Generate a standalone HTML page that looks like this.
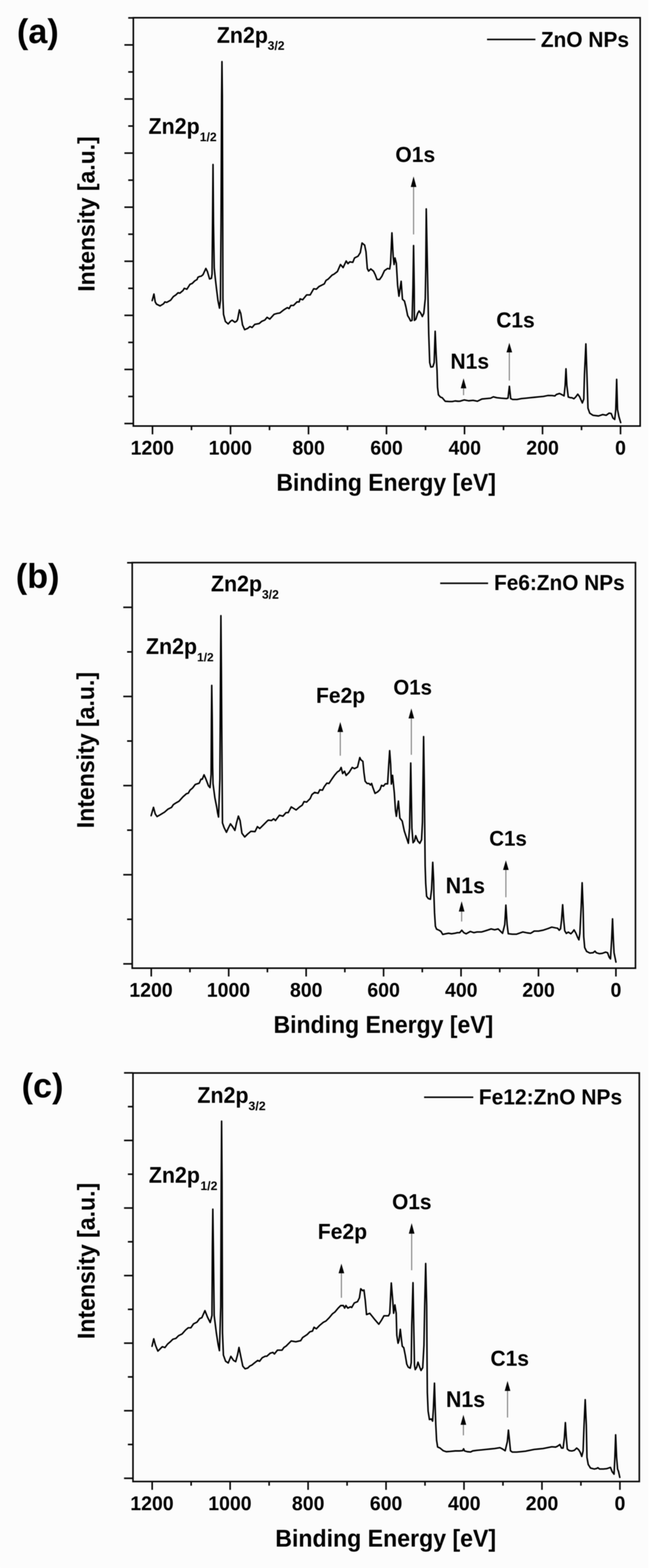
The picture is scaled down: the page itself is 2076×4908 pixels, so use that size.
<!DOCTYPE html>
<html><head><meta charset="utf-8"><title>XPS survey spectra</title>
<style>html,body{margin:0;padding:0;background:#fff;}svg{display:block;filter:blur(1px);}</style>
</head><body>
<svg width="2076" height="4908" viewBox="0 0 2076 4908" font-family="'Liberation Sans', Arial, Helvetica, sans-serif" font-weight="bold" fill="#000">
<rect x="0" y="0" width="2076" height="4908" fill="#fcfcfc"/>
<rect x="2030" y="0" width="46" height="4908" fill="#ffffff"/>
<rect x="417.5" y="55.5" width="1587.0" height="1278.0" fill="none" stroke="#0a0a0a" stroke-width="5"/>
<line x1="389.5" y1="1325.7" x2="417.5" y2="1325.7" stroke="#0a0a0a" stroke-width="5"/>
<line x1="401.5" y1="1241.0" x2="417.5" y2="1241.0" stroke="#0a0a0a" stroke-width="5"/>
<line x1="389.5" y1="1156.4" x2="417.5" y2="1156.4" stroke="#0a0a0a" stroke-width="5"/>
<line x1="401.5" y1="1071.8" x2="417.5" y2="1071.8" stroke="#0a0a0a" stroke-width="5"/>
<line x1="389.5" y1="987.1" x2="417.5" y2="987.1" stroke="#0a0a0a" stroke-width="5"/>
<line x1="401.5" y1="902.5" x2="417.5" y2="902.5" stroke="#0a0a0a" stroke-width="5"/>
<line x1="389.5" y1="817.8" x2="417.5" y2="817.8" stroke="#0a0a0a" stroke-width="5"/>
<line x1="401.5" y1="733.1" x2="417.5" y2="733.1" stroke="#0a0a0a" stroke-width="5"/>
<line x1="389.5" y1="648.5" x2="417.5" y2="648.5" stroke="#0a0a0a" stroke-width="5"/>
<line x1="401.5" y1="563.9" x2="417.5" y2="563.9" stroke="#0a0a0a" stroke-width="5"/>
<line x1="389.5" y1="479.2" x2="417.5" y2="479.2" stroke="#0a0a0a" stroke-width="5"/>
<line x1="401.5" y1="394.5" x2="417.5" y2="394.5" stroke="#0a0a0a" stroke-width="5"/>
<line x1="389.5" y1="309.9" x2="417.5" y2="309.9" stroke="#0a0a0a" stroke-width="5"/>
<line x1="401.5" y1="225.2" x2="417.5" y2="225.2" stroke="#0a0a0a" stroke-width="5"/>
<line x1="389.5" y1="140.6" x2="417.5" y2="140.6" stroke="#0a0a0a" stroke-width="5"/>
<line x1="401.5" y1="56.0" x2="417.5" y2="56.0" stroke="#0a0a0a" stroke-width="5"/>
<line x1="1943.0" y1="1333.5" x2="1943.0" y2="1359.5" stroke="#0a0a0a" stroke-width="5"/>
<text transform="translate(1926.1,1423.2) scale(1,1.045)" font-size="61.00">0</text>
<line x1="1820.9" y1="1333.5" x2="1820.9" y2="1346.5" stroke="#0a0a0a" stroke-width="5"/>
<line x1="1698.8" y1="1333.5" x2="1698.8" y2="1359.5" stroke="#0a0a0a" stroke-width="5"/>
<text transform="translate(1648.1,1423.2) scale(1,1.045)" font-size="61.00">200</text>
<line x1="1576.6" y1="1333.5" x2="1576.6" y2="1346.5" stroke="#0a0a0a" stroke-width="5"/>
<line x1="1454.5" y1="1333.5" x2="1454.5" y2="1359.5" stroke="#0a0a0a" stroke-width="5"/>
<text transform="translate(1404.4,1423.2) scale(1,1.045)" font-size="61.00">400</text>
<line x1="1332.4" y1="1333.5" x2="1332.4" y2="1346.5" stroke="#0a0a0a" stroke-width="5"/>
<line x1="1210.2" y1="1333.5" x2="1210.2" y2="1359.5" stroke="#0a0a0a" stroke-width="5"/>
<text transform="translate(1159.5,1423.2) scale(1,1.045)" font-size="61.00">600</text>
<line x1="1088.1" y1="1333.5" x2="1088.1" y2="1346.5" stroke="#0a0a0a" stroke-width="5"/>
<line x1="966.0" y1="1333.5" x2="966.0" y2="1359.5" stroke="#0a0a0a" stroke-width="5"/>
<text transform="translate(915.4,1423.2) scale(1,1.045)" font-size="61.00">800</text>
<line x1="843.9" y1="1333.5" x2="843.9" y2="1346.5" stroke="#0a0a0a" stroke-width="5"/>
<line x1="721.8" y1="1333.5" x2="721.8" y2="1359.5" stroke="#0a0a0a" stroke-width="5"/>
<text transform="translate(653.2,1423.2) scale(1,1.045)" font-size="61.00">1000</text>
<line x1="599.6" y1="1333.5" x2="599.6" y2="1346.5" stroke="#0a0a0a" stroke-width="5"/>
<line x1="477.5" y1="1333.5" x2="477.5" y2="1359.5" stroke="#0a0a0a" stroke-width="5"/>
<text transform="translate(409.0,1423.2) scale(1,1.045)" font-size="61.00">1200</text>
<line x1="1525" y1="123.5" x2="1676.5" y2="123.5" stroke="#0a0a0a" stroke-width="5"/>
<text transform="translate(1693.4,146.6) scale(1,1.045)" font-size="65.41" >ZnO NPs</text>
<polyline points="476.5,941.0 482.0,920.4 486.0,945.0 490.0,952.0 501.3,957.5 512.3,950.7 516.4,945.0 522.0,946.5 534.3,939.6 542.6,928.6 550.8,923.0 557.7,916.3 563.2,917.6 572.9,909.4 577.0,902.5 585.2,905.2 594.9,890.0 601.8,887.3 610.0,879.0 617.0,875.0 619.7,868.0 625.2,865.3 630.0,864.5 635.8,859.6 644.6,840.2 649.4,849.9 656.2,873.2 662.0,871.3 664.0,857.7 665.5,700.0 667.0,515.0 668.5,700.0 670.8,838.3 673.7,867.4 677.6,901.4 682.4,940.2 687.3,964.5 690.2,940.0 692.1,700.0 693.9,300.0 695.0,193.0 696.2,300.0 697.4,700.0 698.0,935.0 699.9,983.9 705.7,1006.2 714.5,1014.0 722.2,1005.2 727.0,1002.3 735.3,1008.5 740.8,1005.7 744.0,1000.0 749.6,970.0 753.8,981.0 759.3,1016.7 766.1,1031.9 775.8,1027.7 782.7,1022.2 789.5,1025.0 797.8,1015.3 811.6,1012.6 819.8,1005.7 829.5,1001.6 836.3,993.3 844.6,998.8 858.4,983.7 868.0,981.0 876.3,979.6 888.6,969.9 899.6,963.0 905.2,965.8 910.7,956.2 918.9,956.2 930.0,945.0 936.8,945.0 939.6,935.5 947.8,938.3 960.2,923.1 971.2,923.1 982.2,903.9 990.5,905.2 998.7,897.0 1015.3,888.7 1020.8,877.7 1027.6,873.6 1040.0,861.0 1045.5,858.3 1056.5,850.0 1066.1,828.0 1074.4,837.6 1084.0,817.0 1089.5,825.2 1095.0,819.7 1104.7,821.1 1110.2,807.3 1121.2,801.8 1128.1,790.8 1133.6,760.6 1141.8,767.4 1146.0,788.0 1150.1,840.4 1154.2,848.6 1161.1,841.8 1169.4,848.6 1174.9,859.6 1180.4,874.8 1188.6,874.8 1195.5,865.2 1203.8,847.3 1213.4,840.4 1220.3,841.8 1223.0,823.9 1227.2,728.9 1231.3,804.6 1234.0,828.0 1236.8,807.3 1241.0,823.9 1245.0,892.7 1249.2,927.1 1256.1,880.3 1260.2,936.7 1266.4,942.2 1271.0,960.6 1276.5,988.0 1281.1,995.4 1285.7,1004.6 1290.3,1002.8 1293.0,900.0 1295.0,768.6 1297.0,900.0 1297.6,1002.8 1302.2,999.0 1307.7,980.7 1312.3,973.4 1317.8,980.7 1322.4,990.8 1327.0,980.7 1331.6,934.9 1333.2,842.0 1334.7,654.0 1338.4,842.0 1340.4,943.0 1342.4,1044.0 1345.5,1135.0 1349.0,1149.0 1355.4,1148.0 1359.5,1135.0 1362.6,1037.0 1365.7,1110.0 1368.5,1160.0 1370.0,1211.9 1372.8,1235.8 1379.3,1243.1 1384.8,1245.0 1394.0,1256.0 1406.8,1256.9 1416.0,1256.9 1425.1,1255.0 1434.3,1256.0 1440.0,1255.9 1453.8,1251.8 1467.5,1254.5 1481.3,1253.1 1495.0,1255.9 1508.8,1249.0 1522.6,1247.6 1536.3,1246.3 1544.6,1242.1 1555.6,1244.9 1569.4,1246.3 1585.9,1247.6 1590.8,1246.0 1595.0,1209.1 1599.1,1247.6 1605.2,1250.4 1618.9,1250.4 1632.7,1247.6 1646.4,1246.3 1660.2,1244.9 1674.0,1243.5 1687.7,1242.1 1701.5,1240.8 1715.3,1238.0 1728.8,1238.2 1737.6,1239.3 1742.0,1234.9 1751.9,1231.6 1760.7,1236.0 1766.2,1239.3 1769.5,1207.3 1772.2,1154.5 1775.0,1207.3 1779.4,1242.6 1786.0,1244.8 1790.5,1244.8 1797.1,1248.1 1802.6,1242.6 1809.2,1233.8 1814.7,1241.5 1823.5,1261.3 1827.9,1249.2 1830.1,1172.1 1834.5,1076.3 1837.8,1172.1 1841.1,1277.8 1846.6,1293.2 1856.5,1299.8 1874.1,1302.0 1887.3,1297.6 1898.3,1299.8 1907.2,1293.2 1913.8,1294.3 1919.3,1308.6 1924.8,1313.0 1928.1,1282.2 1930.9,1187.5 1933.6,1282.2 1938.0,1304.2 1943.5,1322.9" fill="none" stroke="#000" stroke-width="4.8" stroke-linejoin="round" stroke-linecap="round"/>
<text transform="translate(53.1,134.5) scale(1,1.0)" font-size="107.00" >(a)</text>
<text transform="translate(678.9,133.5) scale(1,1.045)" font-size="67.00" >Zn2p</text>
<text transform="translate(838.1,156.2) scale(1,1.0)" font-size="38.06" >3/2</text>
<text transform="translate(465.1,419.0) scale(1,1.045)" font-size="67.00" >Zn2p</text>
<text transform="translate(625.6,441.7) scale(1,1.0)" font-size="38.07" >1/2</text>
<text transform="translate(1238.1,506.7) scale(1,1.045)" font-size="65.93" >O1s</text>
<line x1="1295.0" y1="585.3" x2="1295.0" y2="733.8" stroke="#888" stroke-width="3.5"/>
<polygon points="1295.0,552.3 1286.2,585.3 1303.8,585.3" fill="#000"/>
<text transform="translate(1410.6,1154.4) scale(1,1.045)" font-size="65.76" >N1s</text>
<line x1="1451.5" y1="1215.6" x2="1451.5" y2="1237.0" stroke="#888" stroke-width="3.5"/>
<polygon points="1451.5,1184.3 1442.7,1215.6 1460.3,1215.6" fill="#000"/>
<text transform="translate(1553.9,1025.2) scale(1,1.045)" font-size="65.64" >C1s</text>
<line x1="1594.8" y1="1103.1" x2="1594.8" y2="1191.2" stroke="#888" stroke-width="3.5"/>
<polygon points="1594.8,1072.9 1586.0,1103.1 1603.6,1103.1" fill="#000"/>
<text transform="translate(865.4,1536.0) scale(1,1.045)" font-size="71.95" >Binding Energy [eV]</text>
<text transform="translate(296.4,913.1) rotate(-90) scale(1,1.045)" font-size="71.78">Intensity [a.u.]</text>
<rect x="414" y="1761" width="1575.8" height="1269.5" fill="none" stroke="#0a0a0a" stroke-width="5"/>
<line x1="386.0" y1="3017.0" x2="414.0" y2="3017.0" stroke="#0a0a0a" stroke-width="5"/>
<line x1="398.0" y1="2877.5" x2="414.0" y2="2877.5" stroke="#0a0a0a" stroke-width="5"/>
<line x1="386.0" y1="2738.0" x2="414.0" y2="2738.0" stroke="#0a0a0a" stroke-width="5"/>
<line x1="398.0" y1="2598.5" x2="414.0" y2="2598.5" stroke="#0a0a0a" stroke-width="5"/>
<line x1="386.0" y1="2459.0" x2="414.0" y2="2459.0" stroke="#0a0a0a" stroke-width="5"/>
<line x1="398.0" y1="2319.5" x2="414.0" y2="2319.5" stroke="#0a0a0a" stroke-width="5"/>
<line x1="386.0" y1="2180.0" x2="414.0" y2="2180.0" stroke="#0a0a0a" stroke-width="5"/>
<line x1="398.0" y1="2040.5" x2="414.0" y2="2040.5" stroke="#0a0a0a" stroke-width="5"/>
<line x1="386.0" y1="1901.0" x2="414.0" y2="1901.0" stroke="#0a0a0a" stroke-width="5"/>
<line x1="398.0" y1="1761.5" x2="414.0" y2="1761.5" stroke="#0a0a0a" stroke-width="5"/>
<line x1="1928.6" y1="3030.5" x2="1928.6" y2="3056.5" stroke="#0a0a0a" stroke-width="5"/>
<text transform="translate(1911.7,3119.7) scale(1,1.045)" font-size="61.00">0</text>
<line x1="1807.3" y1="3030.5" x2="1807.3" y2="3043.5" stroke="#0a0a0a" stroke-width="5"/>
<line x1="1686.1" y1="3030.5" x2="1686.1" y2="3056.5" stroke="#0a0a0a" stroke-width="5"/>
<text transform="translate(1635.4,3119.7) scale(1,1.045)" font-size="61.00">200</text>
<line x1="1564.8" y1="3030.5" x2="1564.8" y2="3043.5" stroke="#0a0a0a" stroke-width="5"/>
<line x1="1443.6" y1="3030.5" x2="1443.6" y2="3056.5" stroke="#0a0a0a" stroke-width="5"/>
<text transform="translate(1393.5,3119.7) scale(1,1.045)" font-size="61.00">400</text>
<line x1="1322.3" y1="3030.5" x2="1322.3" y2="3043.5" stroke="#0a0a0a" stroke-width="5"/>
<line x1="1201.1" y1="3030.5" x2="1201.1" y2="3056.5" stroke="#0a0a0a" stroke-width="5"/>
<text transform="translate(1150.3,3119.7) scale(1,1.045)" font-size="61.00">600</text>
<line x1="1079.8" y1="3030.5" x2="1079.8" y2="3043.5" stroke="#0a0a0a" stroke-width="5"/>
<line x1="958.6" y1="3030.5" x2="958.6" y2="3056.5" stroke="#0a0a0a" stroke-width="5"/>
<text transform="translate(908.0,3119.7) scale(1,1.045)" font-size="61.00">800</text>
<line x1="837.3" y1="3030.5" x2="837.3" y2="3043.5" stroke="#0a0a0a" stroke-width="5"/>
<line x1="716.1" y1="3030.5" x2="716.1" y2="3056.5" stroke="#0a0a0a" stroke-width="5"/>
<text transform="translate(647.6,3119.7) scale(1,1.045)" font-size="61.00">1000</text>
<line x1="594.8" y1="3030.5" x2="594.8" y2="3043.5" stroke="#0a0a0a" stroke-width="5"/>
<line x1="473.6" y1="3030.5" x2="473.6" y2="3056.5" stroke="#0a0a0a" stroke-width="5"/>
<text transform="translate(405.1,3119.7) scale(1,1.045)" font-size="61.00">1200</text>
<line x1="1378.3" y1="1825.8" x2="1528.3" y2="1825.8" stroke="#0a0a0a" stroke-width="5"/>
<text transform="translate(1546.9,1847.0) scale(1,1.045)" font-size="65.16" >Fe6:ZnO NPs</text>
<polyline points="473.2,2553.2 480.6,2527.1 486.1,2547.7 491.7,2556.0 501.3,2550.5 515.0,2542.2 526.1,2532.6 537.1,2527.1 542.6,2518.8 550.8,2513.3 560.5,2507.8 572.9,2494.1 583.9,2484.4 589.4,2483.0 594.9,2473.4 603.1,2466.5 611.4,2455.5 623.8,2451.4 629.3,2439.0 633.4,2439.0 638.9,2425.2 644.4,2437.6 652.7,2459.6 657.6,2465.2 661.0,2423.9 662.0,2250.0 663.0,2145.3 664.5,2250.0 665.8,2400.0 667.0,2453.0 672.8,2497.0 678.7,2527.0 681.5,2545.0 684.3,2557.4 688.5,2437.6 690.5,2100.0 691.7,1927.2 693.2,2100.0 695.3,2410.0 696.6,2575.8 701.7,2590.5 709.1,2605.1 715.0,2592.0 721.6,2578.7 728.2,2587.5 735.5,2599.3 740.6,2575.8 746.5,2554.5 751.7,2568.4 757.5,2608.1 766.3,2619.8 775.1,2611.0 785.4,2602.2 798.6,2603.0 806.0,2587.5 813.3,2593.4 825.0,2581.7 836.8,2569.9 840.5,2567.0 850.1,2568.4 857.0,2562.9 862.5,2568.4 874.9,2551.9 885.9,2554.6 895.5,2543.6 902.4,2543.6 912.0,2525.7 927.2,2535.3 938.2,2525.7 946.4,2520.2 952.0,2509.2 960.2,2510.6 971.2,2499.6 976.7,2487.2 985.0,2480.3 996.0,2483.0 1001.5,2472.0 1009.7,2473.4 1015.3,2462.4 1023.5,2451.4 1030.0,2452.3 1039.5,2438.0 1047.9,2426.1 1056.2,2416.5 1063.4,2411.8 1068.2,2402.2 1072.9,2421.3 1078.9,2414.1 1083.7,2427.3 1093.2,2417.7 1102.8,2402.2 1109.9,2405.8 1119.5,2401.0 1126.6,2371.2 1130.2,2378.4 1136.2,2383.1 1139.7,2418.9 1143.3,2445.2 1149.3,2452.3 1155.2,2452.3 1160.0,2457.1 1163.6,2452.3 1167.2,2464.2 1174.3,2483.3 1182.7,2478.5 1189.8,2471.4 1194.6,2458.3 1200.6,2460.7 1206.5,2453.5 1213.7,2453.5 1217.3,2392.7 1220.1,2349.7 1223.2,2392.7 1225.5,2454.3 1229.2,2426.8 1231.0,2445.0 1234.7,2481.8 1238.3,2536.9 1241.1,2555.2 1247.5,2507.5 1252.1,2560.7 1259.4,2569.9 1265.9,2601.1 1273.2,2623.1 1278.7,2639.6 1282.4,2591.9 1286.1,2388.3 1289.7,2591.9 1293.4,2637.8 1298.0,2632.3 1301.7,2615.8 1308.1,2632.3 1314.5,2639.6 1320.0,2628.6 1322.8,2573.6 1324.5,2450.0 1326.4,2305.7 1328.5,2450.0 1331.2,2710.0 1333.0,2765.0 1335.8,2805.5 1341.3,2812.8 1347.7,2814.7 1351.4,2783.5 1355.0,2699.1 1357.8,2756.0 1358.7,2801.8 1360.6,2856.9 1363.3,2899.1 1367.0,2908.3 1375.2,2911.9 1380.7,2915.6 1386.2,2924.8 1395.4,2922.9 1404.6,2921.1 1413.8,2922.9 1424.8,2921.1 1432.1,2919.3 1439.4,2919.3 1445.9,2911.9 1452.3,2919.3 1459.6,2922.9 1472.5,2915.6 1483.5,2919.3 1493.8,2917.2 1507.5,2917.2 1521.3,2913.1 1537.8,2907.6 1548.8,2910.3 1559.8,2907.6 1573.6,2921.3 1580.5,2893.8 1584.0,2833.2 1587.9,2893.8 1591.5,2922.7 1603.9,2924.1 1617.6,2924.1 1636.9,2917.2 1650.7,2920.0 1661.7,2921.3 1672.7,2914.4 1686.4,2914.4 1700.2,2911.7 1716.7,2906.2 1727.7,2902.0 1740.0,2904.5 1746.0,2905.5 1751.1,2911.6 1755.1,2907.5 1758.2,2881.3 1761.8,2831.8 1765.2,2881.3 1768.3,2913.6 1773.3,2921.7 1779.4,2917.6 1787.4,2922.7 1792.5,2917.6 1797.5,2910.6 1803.6,2921.7 1808.6,2933.8 1812.7,2941.8 1815.7,2921.7 1819.7,2840.9 1822.8,2763.2 1825.8,2840.9 1827.8,2931.7 1830.8,2966.1 1836.9,2978.2 1847.0,2983.2 1857.1,2982.2 1863.1,2977.2 1867.2,2982.2 1877.2,2985.2 1885.3,2984.2 1896.4,2980.2 1902.5,2982.2 1907.5,2996.3 1911.6,3001.4 1915.2,2941.8 1918.0,2876.2 1920.6,2941.8 1922.7,2982.2 1928.7,3011.5" fill="none" stroke="#000" stroke-width="4.8" stroke-linejoin="round" stroke-linecap="round"/>
<text transform="translate(49.5,1839.7) scale(1,1.0)" font-size="107.00" >(b)</text>
<text transform="translate(660.5,1850.8) scale(1,1.045)" font-size="67.00" >Zn2p</text>
<text transform="translate(820.2,1874.0) scale(1,1.0)" font-size="38.06" >3/2</text>
<text transform="translate(457.0,2047.3) scale(1,1.045)" font-size="67.00" >Zn2p</text>
<text transform="translate(617.1,2069.8) scale(1,1.0)" font-size="37.37" >1/2</text>
<text transform="translate(989.6,2200.3) scale(1,1.045)" font-size="65.90" >Fe2p</text>
<line x1="1065.5" y1="2291.2" x2="1065.5" y2="2365.4" stroke="#888" stroke-width="3.5"/>
<polygon points="1065.5,2260.0 1056.7,2291.2 1074.3,2291.2" fill="#000"/>
<text transform="translate(1231.8,2173.9) scale(1,1.045)" font-size="63.83" >O1s</text>
<line x1="1288.0" y1="2248.8" x2="1288.0" y2="2362.6" stroke="#888" stroke-width="3.5"/>
<polygon points="1288.0,2217.6 1279.2,2248.8 1296.8,2248.8" fill="#000"/>
<text transform="translate(1395.6,2796.4) scale(1,1.045)" font-size="67.00" >N1s</text>
<line x1="1445.5" y1="2853.2" x2="1445.5" y2="2884.4" stroke="#888" stroke-width="3.5"/>
<polygon points="1445.5,2821.1 1436.7,2853.2 1454.3,2853.2" fill="#000"/>
<text transform="translate(1532.1,2646.6) scale(1,1.045)" font-size="64.04" >C1s</text>
<line x1="1584.0" y1="2723.1" x2="1584.0" y2="2808.5" stroke="#888" stroke-width="3.5"/>
<polygon points="1584.0,2692.9 1575.2,2723.1 1592.8,2723.1" fill="#000"/>
<text transform="translate(856.6,3233.0) scale(1,1.045)" font-size="71.99" >Binding Energy [eV]</text>
<text transform="translate(293.7,2592.4) rotate(-90) scale(1,1.045)" font-size="72.16">Intensity [a.u.]</text>
<rect x="416.4" y="3358.6" width="1585.4" height="1278.7000000000003" fill="none" stroke="#0a0a0a" stroke-width="5"/>
<line x1="388.4" y1="4627.2" x2="416.4" y2="4627.2" stroke="#0a0a0a" stroke-width="5"/>
<line x1="400.4" y1="4521.4" x2="416.4" y2="4521.4" stroke="#0a0a0a" stroke-width="5"/>
<line x1="388.4" y1="4415.7" x2="416.4" y2="4415.7" stroke="#0a0a0a" stroke-width="5"/>
<line x1="400.4" y1="4309.9" x2="416.4" y2="4309.9" stroke="#0a0a0a" stroke-width="5"/>
<line x1="388.4" y1="4204.2" x2="416.4" y2="4204.2" stroke="#0a0a0a" stroke-width="5"/>
<line x1="400.4" y1="4098.4" x2="416.4" y2="4098.4" stroke="#0a0a0a" stroke-width="5"/>
<line x1="388.4" y1="3992.7" x2="416.4" y2="3992.7" stroke="#0a0a0a" stroke-width="5"/>
<line x1="400.4" y1="3886.9" x2="416.4" y2="3886.9" stroke="#0a0a0a" stroke-width="5"/>
<line x1="388.4" y1="3781.2" x2="416.4" y2="3781.2" stroke="#0a0a0a" stroke-width="5"/>
<line x1="400.4" y1="3675.4" x2="416.4" y2="3675.4" stroke="#0a0a0a" stroke-width="5"/>
<line x1="388.4" y1="3569.7" x2="416.4" y2="3569.7" stroke="#0a0a0a" stroke-width="5"/>
<line x1="400.4" y1="3463.9" x2="416.4" y2="3463.9" stroke="#0a0a0a" stroke-width="5"/>
<line x1="388.4" y1="3358.2" x2="416.4" y2="3358.2" stroke="#0a0a0a" stroke-width="5"/>
<line x1="1941.1" y1="4637.3" x2="1941.1" y2="4663.3" stroke="#0a0a0a" stroke-width="5"/>
<text transform="translate(1924.2,4727.2) scale(1,1.045)" font-size="61.00">0</text>
<line x1="1819.0" y1="4637.3" x2="1819.0" y2="4650.3" stroke="#0a0a0a" stroke-width="5"/>
<line x1="1697.0" y1="4637.3" x2="1697.0" y2="4663.3" stroke="#0a0a0a" stroke-width="5"/>
<text transform="translate(1646.3,4727.2) scale(1,1.045)" font-size="61.00">200</text>
<line x1="1574.9" y1="4637.3" x2="1574.9" y2="4650.3" stroke="#0a0a0a" stroke-width="5"/>
<line x1="1452.9" y1="4637.3" x2="1452.9" y2="4663.3" stroke="#0a0a0a" stroke-width="5"/>
<text transform="translate(1402.8,4727.2) scale(1,1.045)" font-size="61.00">400</text>
<line x1="1330.8" y1="4637.3" x2="1330.8" y2="4650.3" stroke="#0a0a0a" stroke-width="5"/>
<line x1="1208.8" y1="4637.3" x2="1208.8" y2="4663.3" stroke="#0a0a0a" stroke-width="5"/>
<text transform="translate(1158.0,4727.2) scale(1,1.045)" font-size="61.00">600</text>
<line x1="1086.8" y1="4637.3" x2="1086.8" y2="4650.3" stroke="#0a0a0a" stroke-width="5"/>
<line x1="964.7" y1="4637.3" x2="964.7" y2="4663.3" stroke="#0a0a0a" stroke-width="5"/>
<text transform="translate(914.1,4727.2) scale(1,1.045)" font-size="61.00">800</text>
<line x1="842.7" y1="4637.3" x2="842.7" y2="4650.3" stroke="#0a0a0a" stroke-width="5"/>
<line x1="720.6" y1="4637.3" x2="720.6" y2="4663.3" stroke="#0a0a0a" stroke-width="5"/>
<text transform="translate(652.1,4727.2) scale(1,1.045)" font-size="61.00">1000</text>
<line x1="598.5" y1="4637.3" x2="598.5" y2="4650.3" stroke="#0a0a0a" stroke-width="5"/>
<line x1="476.5" y1="4637.3" x2="476.5" y2="4663.3" stroke="#0a0a0a" stroke-width="5"/>
<text transform="translate(408.0,4727.2) scale(1,1.045)" font-size="61.00">1200</text>
<line x1="1327.9" y1="3434.6" x2="1482" y2="3434.6" stroke="#0a0a0a" stroke-width="5"/>
<text transform="translate(1499.3,3456.6) scale(1,1.045)" font-size="65.65" >Fe12:ZnO NPs</text>
<polyline points="476.0,4214.0 481.5,4190.6 486.1,4208.5 490.3,4219.5 494.4,4229.1 501.3,4222.2 508.2,4215.3 516.4,4218.1 524.7,4207.1 532.9,4200.2 541.2,4192.0 550.8,4189.2 559.1,4180.9 570.1,4175.4 581.1,4163.0 589.4,4156.2 597.6,4156.2 605.9,4143.8 616.9,4138.3 625.2,4127.3 632.0,4124.5 641.7,4102.5 649.9,4123.1 658.2,4139.6 663.7,4117.6 665.0,3900.0 666.4,3785.0 668.0,3900.0 670.6,4117.6 677.5,4172.7 683.0,4208.5 687.1,4227.7 691.2,4090.0 692.7,3700.0 693.9,3509.4 695.2,3700.0 696.7,4172.7 699.5,4241.5 706.4,4260.8 714.6,4266.3 722.9,4245.6 731.1,4258.0 738.0,4262.1 744.0,4240.0 748.3,4217.7 754.3,4247.5 760.3,4276.2 767.4,4284.5 775.8,4282.1 781.7,4276.2 788.9,4272.6 796.1,4266.6 806.8,4258.3 812.8,4260.7 821.1,4249.9 830.6,4245.2 835.4,4245.2 846.2,4235.6 854.5,4233.2 859.3,4238.0 868.8,4226.1 883.1,4226.1 889.1,4217.7 896.3,4213.0 899.8,4209.4 911.8,4197.4 926.1,4199.8 941.6,4196.3 947.5,4186.7 961.8,4177.2 970.2,4168.8 978.5,4166.4 983.3,4154.5 990.5,4159.3 1000.4,4149.0 1012.5,4138.9 1020.6,4134.9 1030.7,4124.8 1040.7,4112.7 1048.8,4106.6 1058.9,4094.5 1067.0,4086.5 1075.1,4086.5 1079.1,4094.5 1083.1,4086.5 1089.2,4094.5 1097.3,4090.5 1101.3,4092.5 1109.4,4078.4 1119.5,4074.3 1125.5,4062.2 1129.6,4034.0 1135.6,4040.0 1139.7,4038.0 1143.7,4070.3 1147.7,4114.7 1157.8,4110.7 1165.9,4120.8 1174.0,4130.9 1186.1,4145.0 1194.2,4132.9 1202.2,4118.7 1216.4,4118.7 1220.4,4110.7 1225.2,4015.8 1229.7,4070.3 1232.5,4110.7 1236.5,4084.4 1240.6,4110.7 1242.5,4179.5 1246.4,4204.5 1249.5,4195.1 1253.4,4160.8 1257.3,4195.1 1259.6,4213.8 1264.3,4218.5 1269.0,4241.9 1273.7,4270.0 1278.3,4279.3 1284.6,4282.5 1287.7,4265.3 1289.3,4148.3 1293.2,4015.0 1295.5,4148.3 1297.8,4273.1 1300.2,4287.1 1304.9,4279.3 1308.8,4263.8 1314.2,4279.3 1318.3,4289.7 1323.6,4280.9 1327.5,4210.7 1329.8,4086.0 1332.9,3955.0 1336.0,4086.0 1337.2,4260.0 1338.1,4359.1 1340.5,4416.9 1344.7,4443.3 1350.5,4441.6 1354.6,4448.2 1357.1,4408.6 1360.4,4329.4 1362.8,4408.6 1364.5,4458.2 1367.0,4507.7 1370.3,4529.2 1377.7,4532.5 1387.6,4540.7 1397.5,4544.0 1409.1,4543.2 1425.6,4541.5 1438.8,4541.5 1448.7,4540.7 1451.7,4534.9 1454.5,4541.5 1463.6,4544.0 1473.5,4544.8 1480.1,4541.5 1493.8,4539.6 1507.5,4538.3 1521.3,4536.9 1535.0,4535.5 1548.8,4534.1 1565.3,4531.4 1573.6,4535.5 1581.8,4541.0 1588.7,4512.1 1592.0,4476.3 1595.6,4512.1 1598.4,4541.0 1603.9,4545.2 1617.6,4545.2 1631.4,4543.8 1645.2,4542.4 1658.9,4539.6 1672.7,4536.9 1686.4,4535.5 1700.2,4534.1 1714.0,4531.4 1727.7,4528.6 1740.0,4529.5 1746.1,4526.5 1753.1,4521.5 1758.2,4532.6 1763.2,4532.6 1767.2,4501.3 1770.3,4452.8 1773.3,4501.3 1776.3,4535.6 1782.4,4540.6 1790.5,4541.7 1798.5,4539.6 1805.6,4532.6 1811.7,4537.6 1816.7,4545.7 1821.7,4558.8 1825.8,4541.7 1828.8,4460.9 1832.4,4381.2 1835.9,4460.9 1837.9,4561.8 1841.9,4584.0 1849.0,4595.1 1861.1,4598.2 1869.2,4596.1 1872.2,4594.1 1877.2,4598.2 1889.4,4598.2 1899.5,4597.2 1911.6,4593.1 1916.6,4606.2 1922.7,4614.3 1925.3,4561.8 1927.7,4491.2 1930.7,4561.8 1933.8,4598.2 1936.8,4606.2 1940.8,4624.4" fill="none" stroke="#000" stroke-width="4.8" stroke-linejoin="round" stroke-linecap="round"/>
<text transform="translate(67.8,3434.7) scale(1,1.0)" font-size="107.00" >(c)</text>
<text transform="translate(618.1,3452.0) scale(1,1.045)" font-size="67.00" >Zn2p</text>
<text transform="translate(777.8,3475.2) scale(1,1.0)" font-size="38.96" >3/2</text>
<text transform="translate(466.0,3702.1) scale(1,1.045)" font-size="67.00" >Zn2p</text>
<text transform="translate(627.4,3724.7) scale(1,1.0)" font-size="38.38" >1/2</text>
<text transform="translate(995.0,3877.7) scale(1,1.045)" font-size="66.17" >Fe2p</text>
<line x1="1069.0" y1="3985.5" x2="1069.0" y2="4062.2" stroke="#888" stroke-width="3.5"/>
<polygon points="1069.0,3955.2 1060.2,3985.5 1077.8,3985.5" fill="#000"/>
<text transform="translate(1227.7,3785.4) scale(1,1.045)" font-size="65.32" >O1s</text>
<line x1="1289.0" y1="3861.5" x2="1289.0" y2="3976.0" stroke="#888" stroke-width="3.5"/>
<polygon points="1289.0,3828.4 1280.2,3861.5 1297.8,3861.5" fill="#000"/>
<text transform="translate(1396.5,4404.0) scale(1,1.045)" font-size="66.74" >N1s</text>
<line x1="1451.0" y1="4459.8" x2="1451.0" y2="4492.8" stroke="#888" stroke-width="3.5"/>
<polygon points="1451.0,4428.4 1442.2,4459.8 1459.8,4459.8" fill="#000"/>
<text transform="translate(1535.8,4274.9) scale(1,1.045)" font-size="65.64" >C1s</text>
<line x1="1589.2" y1="4353.7" x2="1589.2" y2="4437.0" stroke="#888" stroke-width="3.5"/>
<polygon points="1589.2,4322.5 1580.4,4353.7 1598.0,4353.7" fill="#000"/>
<text transform="translate(861.9,4840.5) scale(1,1.045)" font-size="72.38" >Binding Energy [eV]</text>
<text transform="translate(296.1,4191.4) rotate(-90) scale(1,1.045)" font-size="72.16">Intensity [a.u.]</text>
</svg>
</body></html>
